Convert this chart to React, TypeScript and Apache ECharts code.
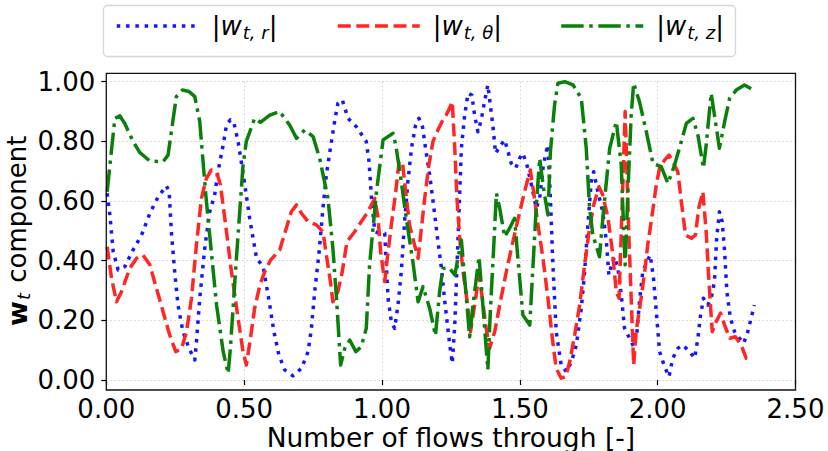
import React, { useEffect, useRef } from "react";
import * as echarts from "echarts";

// ---- data ----
const rX = [0.003,0.013,0.025,0.043,0.067,0.097,0.128,0.158,0.188,0.218,0.228,0.236,0.248,0.26,0.278,0.30,0.321,0.327,0.339,0.357,0.375,0.393,0.405,0.424,0.436,0.45,0.462,0.478,0.499,0.52,0.545,0.569,0.593,0.608,0.626,0.647,0.677,0.708,0.732,0.744,0.756,0.772,0.786,0.798,0.813,0.828,0.84,0.856,0.877,0.907,0.943,0.953,0.962,0.974,0.992,1.01,1.022,1.034,1.046,1.058,1.07,1.082,1.094,1.107,1.122,1.134,1.147,1.158,1.173,1.187,1.203,1.215,1.227,1.238,1.247,1.255,1.264,1.27,1.279,1.288,1.3,1.312,1.326,1.336,1.348,1.36,1.372,1.384,1.39,1.402,1.412,1.427,1.445,1.457,1.469,1.485,1.499,1.511,1.526,1.542,1.56,1.572,1.584,1.594,1.602,1.611,1.62,1.632,1.65,1.669,1.687,1.705,1.723,1.735,1.747,1.759,1.768,1.783,1.801,1.814,1.823,1.834,1.844,1.856,1.868,1.88,1.898,1.913,1.925,1.934,1.946,1.961,1.973,1.985,1.995,2.007,2.025,2.041,2.055,2.073,2.091,2.116,2.134,2.146,2.154,2.166,2.182,2.194,2.206,2.214,2.224,2.234,2.243,2.251,2.264,2.279,2.297,2.312,2.327,2.339,2.351];
const rY = [0.626,0.553,0.43,0.369,0.38,0.436,0.486,0.559,0.614,0.651,0.631,0.497,0.363,0.251,0.162,0.106,0.067,0.128,0.274,0.441,0.564,0.62,0.698,0.788,0.855,0.872,0.866,0.8,0.676,0.542,0.408,0.38,0.251,0.162,0.084,0.034,0.014,0.039,0.095,0.173,0.296,0.43,0.576,0.687,0.777,0.866,0.927,0.939,0.877,0.849,0.8,0.732,0.609,0.497,0.492,0.492,0.274,0.195,0.173,0.251,0.363,0.531,0.665,0.777,0.855,0.877,0.849,0.777,0.687,0.587,0.464,0.38,0.27,0.18,0.11,0.056,0.184,0.33,0.553,0.777,0.888,0.961,0.955,0.888,0.832,0.872,0.933,0.989,0.944,0.855,0.76,0.782,0.805,0.766,0.726,0.71,0.743,0.76,0.72,0.654,0.576,0.609,0.71,0.76,0.788,0.609,0.386,0.162,0.05,0.028,0.061,0.117,0.24,0.363,0.52,0.665,0.698,0.631,0.564,0.464,0.352,0.39,0.413,0.374,0.285,0.173,0.14,0.112,0.162,0.262,0.363,0.397,0.419,0.341,0.229,0.095,0.045,0.011,0.073,0.106,0.117,0.095,0.073,0.14,0.207,0.274,0.251,0.274,0.33,0.475,0.564,0.531,0.43,0.296,0.207,0.162,0.14,0.123,0.162,0.207,0.251];

const thX = [0.003,0.019,0.037,0.055,0.085,0.11,0.133,0.158,0.182,0.206,0.23,0.252,0.273,0.291,0.309,0.327,0.345,0.363,0.381,0.4,0.414,0.433,0.454,0.478,0.496,0.508,0.523,0.538,0.557,0.575,0.596,0.629,0.653,0.671,0.69,0.708,0.732,0.762,0.786,0.8,0.813,0.822,0.84,0.856,0.873,0.901,0.925,0.949,0.974,0.986,0.995,1.01,1.018,1.034,1.05,1.062,1.074,1.086,1.1,1.115,1.131,1.139,1.155,1.17,1.185,1.203,1.221,1.233,1.245,1.255,1.264,1.272,1.282,1.294,1.306,1.321,1.336,1.352,1.364,1.378,1.39,1.409,1.427,1.451,1.475,1.497,1.517,1.538,1.55,1.566,1.584,1.602,1.618,1.632,1.65,1.666,1.681,1.699,1.717,1.735,1.751,1.768,1.787,1.801,1.82,1.836,1.85,1.86,1.868,1.876,1.882,1.888,1.895,1.904,1.913,1.922,1.94,1.953,1.964,1.98,1.995,2.007,2.025,2.041,2.055,2.073,2.086,2.101,2.122,2.137,2.149,2.164,2.176,2.186,2.198,2.212,2.228,2.243,2.261,2.282,2.303,2.321,2.331];
const thY = [0.447,0.341,0.262,0.296,0.374,0.408,0.419,0.386,0.307,0.229,0.151,0.095,0.106,0.162,0.274,0.453,0.609,0.676,0.704,0.698,0.654,0.52,0.363,0.207,0.095,0.05,0.14,0.24,0.318,0.363,0.402,0.436,0.509,0.564,0.587,0.559,0.531,0.52,0.497,0.408,0.33,0.262,0.296,0.363,0.464,0.497,0.531,0.564,0.609,0.542,0.43,0.33,0.397,0.52,0.631,0.732,0.732,0.631,0.52,0.464,0.408,0.475,0.609,0.72,0.8,0.838,0.872,0.888,0.911,0.933,0.777,0.609,0.475,0.363,0.285,0.162,0.251,0.352,0.274,0.173,0.106,0.162,0.251,0.363,0.464,0.553,0.631,0.704,0.631,0.52,0.408,0.274,0.14,0.039,0.006,0.011,0.061,0.151,0.251,0.386,0.497,0.587,0.648,0.62,0.542,0.43,0.296,0.274,0.497,0.72,0.9,0.72,0.497,0.274,0.05,0.162,0.274,0.363,0.453,0.553,0.654,0.71,0.737,0.754,0.732,0.698,0.598,0.486,0.475,0.486,0.576,0.631,0.497,0.33,0.162,0.195,0.224,0.184,0.14,0.145,0.117,0.073,0.07];

const zX = [0.003,0.031,0.049,0.067,0.097,0.121,0.158,0.206,0.224,0.254,0.276,0.3,0.321,0.339,0.361,0.375,0.4,0.424,0.442,0.45,0.472,0.496,0.508,0.538,0.559,0.593,0.629,0.647,0.665,0.69,0.72,0.75,0.774,0.804,0.822,0.835,0.85,0.865,0.883,0.905,0.925,0.943,0.955,0.98,1.004,1.04,1.05,1.07,1.088,1.112,1.131,1.149,1.173,1.194,1.209,1.221,1.245,1.264,1.288,1.3,1.318,1.33,1.352,1.364,1.384,1.393,1.405,1.415,1.427,1.445,1.463,1.481,1.493,1.511,1.536,1.548,1.56,1.572,1.586,1.602,1.611,1.626,1.638,1.663,1.693,1.723,1.741,1.753,1.765,1.789,1.801,1.814,1.826,1.85,1.868,1.876,1.882,1.892,1.904,1.913,1.934,1.959,1.983,2.013,2.037,2.061,2.086,2.104,2.128,2.146,2.166,2.176,2.194,2.206,2.224,2.243,2.261,2.285,2.315,2.339];
const zY = [0.631,0.877,0.886,0.86,0.8,0.763,0.734,0.732,0.754,0.95,0.972,0.967,0.95,0.866,0.62,0.486,0.251,0.095,0.022,0.106,0.408,0.72,0.8,0.877,0.864,0.888,0.9,0.877,0.855,0.81,0.838,0.816,0.743,0.609,0.441,0.274,0.05,0.106,0.134,0.095,0.112,0.173,0.386,0.631,0.805,0.827,0.788,0.665,0.542,0.397,0.262,0.313,0.24,0.149,0.296,0.374,0.375,0.352,0.469,0.341,0.145,0.251,0.413,0.274,0.034,0.229,0.441,0.626,0.576,0.48,0.509,0.542,0.408,0.218,0.184,0.386,0.587,0.743,0.643,0.553,0.766,0.922,0.995,1.0,0.989,0.944,0.777,0.576,0.486,0.413,0.542,0.665,0.777,0.866,0.72,0.52,0.386,0.631,0.888,0.995,0.933,0.832,0.726,0.715,0.659,0.72,0.8,0.86,0.877,0.821,0.71,0.788,0.961,0.888,0.777,0.866,0.944,0.972,0.989,0.976];

const xTicks = [0, 0.5, 1, 1.5, 2, 2.5];
const yTicks = [0, 0.2, 0.4, 0.6, 0.8, 1.0];
const seriesNames = ["r", "theta", "z"];
const legendSub = ["t, r", "t, θ", "t, z"];

const FONT = "DejaVu Sans";
const colors = ["#1515ff", "#ff2626", "#0a800a"];
const dashes = [[3.5, 5.8], [13, 5.6], [22.4, 5.6, 3.5, 5.6]];

const pairs = (xs: number[], ys: number[]) => xs.map((x, i) => [x, ys[i]]);

export default function App() {
  const ref = useRef<HTMLDivElement>(null);
  useEffect(() => {
    if (!ref.current) return;
    const chart = echarts.init(ref.current, undefined, { renderer: "svg" });
    const left = 106.3;
    const right = 795.5;
    const top = 81.7;
    const bottom = 380;
    const legendRich = {
      i: { fontFamily: FONT, fontStyle: "italic", fontSize: 26, color: "#000", lineHeight: 32 },
      s: { fontFamily: FONT, fontStyle: "italic", fontSize: 18, color: "#000", padding: [12, 0, 0, 1] },
      n: { fontFamily: FONT, fontSize: 26, color: "#000", lineHeight: 32 },
    };
    const legendLefts = [115, 336, 559.5];
    const option: any = {
      animation: false,
      backgroundColor: "#fff",
      grid: {
        left, right: 828 - right, top, bottom: 451 - bottom,
        containLabel: false, outerBoundsMode: "none",
      },
      xAxis: {
        type: "value",
        min: xTicks[0],
        max: xTicks[xTicks.length - 1],
        interval: 0.5,
        offset: 10,
        axisLine: { show: false },
        axisTick: { show: true, length: 5, lineStyle: { color: "#000", width: 1.2 } },
        axisLabel: {
          fontFamily: FONT, fontSize: 26, color: "#000", margin: 6,
          formatter: (v: number) => v.toFixed(2),
        },
        splitLine: { show: true, lineStyle: { color: "#d0d0d0", width: 1, type: [1.5, 2.5] } },
        name: "Number of flows through [-]",
        nameLocation: "middle",
        nameMoveOverlap: false,
        nameGap: 33,
        nameTextStyle: { fontFamily: FONT, fontSize: 26.5, color: "#000", lineHeight: 28 },
      },
      yAxis: {
        type: "value",
        min: yTicks[0],
        max: yTicks[yTicks.length - 1],
        interval: 0.2,
        axisLine: { show: false },
        axisTick: { show: true, length: 5, lineStyle: { color: "#000", width: 1.2 } },
        axisLabel: {
          fontFamily: FONT, fontSize: 26, color: "#000", margin: 11,
          formatter: (v: number) => v.toFixed(2),
        },
        splitLine: { show: true, lineStyle: { color: "#d0d0d0", width: 1, type: [1.5, 2.5] } },
        name: "{b|w}{s|t} component",
        nameLocation: "middle",
        nameMoveOverlap: false,
        nameGap: 73,
        nameTextStyle: {
          fontFamily: FONT, fontSize: 26, color: "#000", lineHeight: 32,
          rich: {
            b: { fontFamily: FONT, fontWeight: "bold", fontSize: 27, color: "#000", lineHeight: 32 },
            s: { fontFamily: FONT, fontStyle: "italic", fontSize: 18, color: "#000", padding: [12, 2, 0, 1] },
          },
        },
      },
      legend: seriesNames.map((nm, i) => ({
        data: [nm],
        left: legendLefts[i],
        top: 13,
        padding: 0,
        itemWidth: 82,
        itemHeight: 14,
        selectedMode: false,
        itemStyle: { opacity: 0 },
        lineStyle: { color: colors[i], width: 3.5, type: dashes[i], cap: "butt" },
        formatter: () => `{n||}{i|w}{s|${legendSub[i]}}{n||}`,
        textStyle: { fontFamily: FONT, fontSize: 26, color: "#000", padding: [0, 0, 0, 8], rich: legendRich },
      })),
      graphic: [
        {
          type: "rect",
          shape: { x: 103.5, y: 5.5, width: 632, height: 51, r: 4 },
          style: { fill: "none", stroke: "#d6d6d6", lineWidth: 1.3 },
          silent: true,
        },
        {
          type: "rect",
          shape: { x: left, y: 73.3, width: right - left, height: 390 - 73.3 },
          style: { fill: "none", stroke: "#111", lineWidth: 1.3 },
          silent: true,
          z: 100,
        },
      ],
      series: [
        {
          name: seriesNames[0], type: "line", data: pairs(rX, rY), symbol: "none", clip: false,
          lineStyle: { color: colors[0], width: 3.5, type: dashes[0], cap: "butt", join: "round" },
          itemStyle: { color: colors[0] },
        },
        {
          name: seriesNames[1], type: "line", data: pairs(thX, thY), symbol: "none", clip: false,
          lineStyle: { color: colors[1], width: 3.5, type: dashes[1], cap: "butt", join: "round" },
          itemStyle: { color: colors[1] },
        },
        {
          name: seriesNames[2], type: "line", data: pairs(zX, zY), symbol: "none", clip: false,
          lineStyle: { color: colors[2], width: 3.5, type: dashes[2], cap: "butt", join: "round" },
          itemStyle: { color: colors[2] },
        },
      ],
    };
    chart.setOption(option);
    return () => chart.dispose();
  }, []);
  return (
    <div
      ref={ref}
      style={{ position: "fixed", left: 0, top: 0, width: 828, height: 451 }}
    />
  );
}
